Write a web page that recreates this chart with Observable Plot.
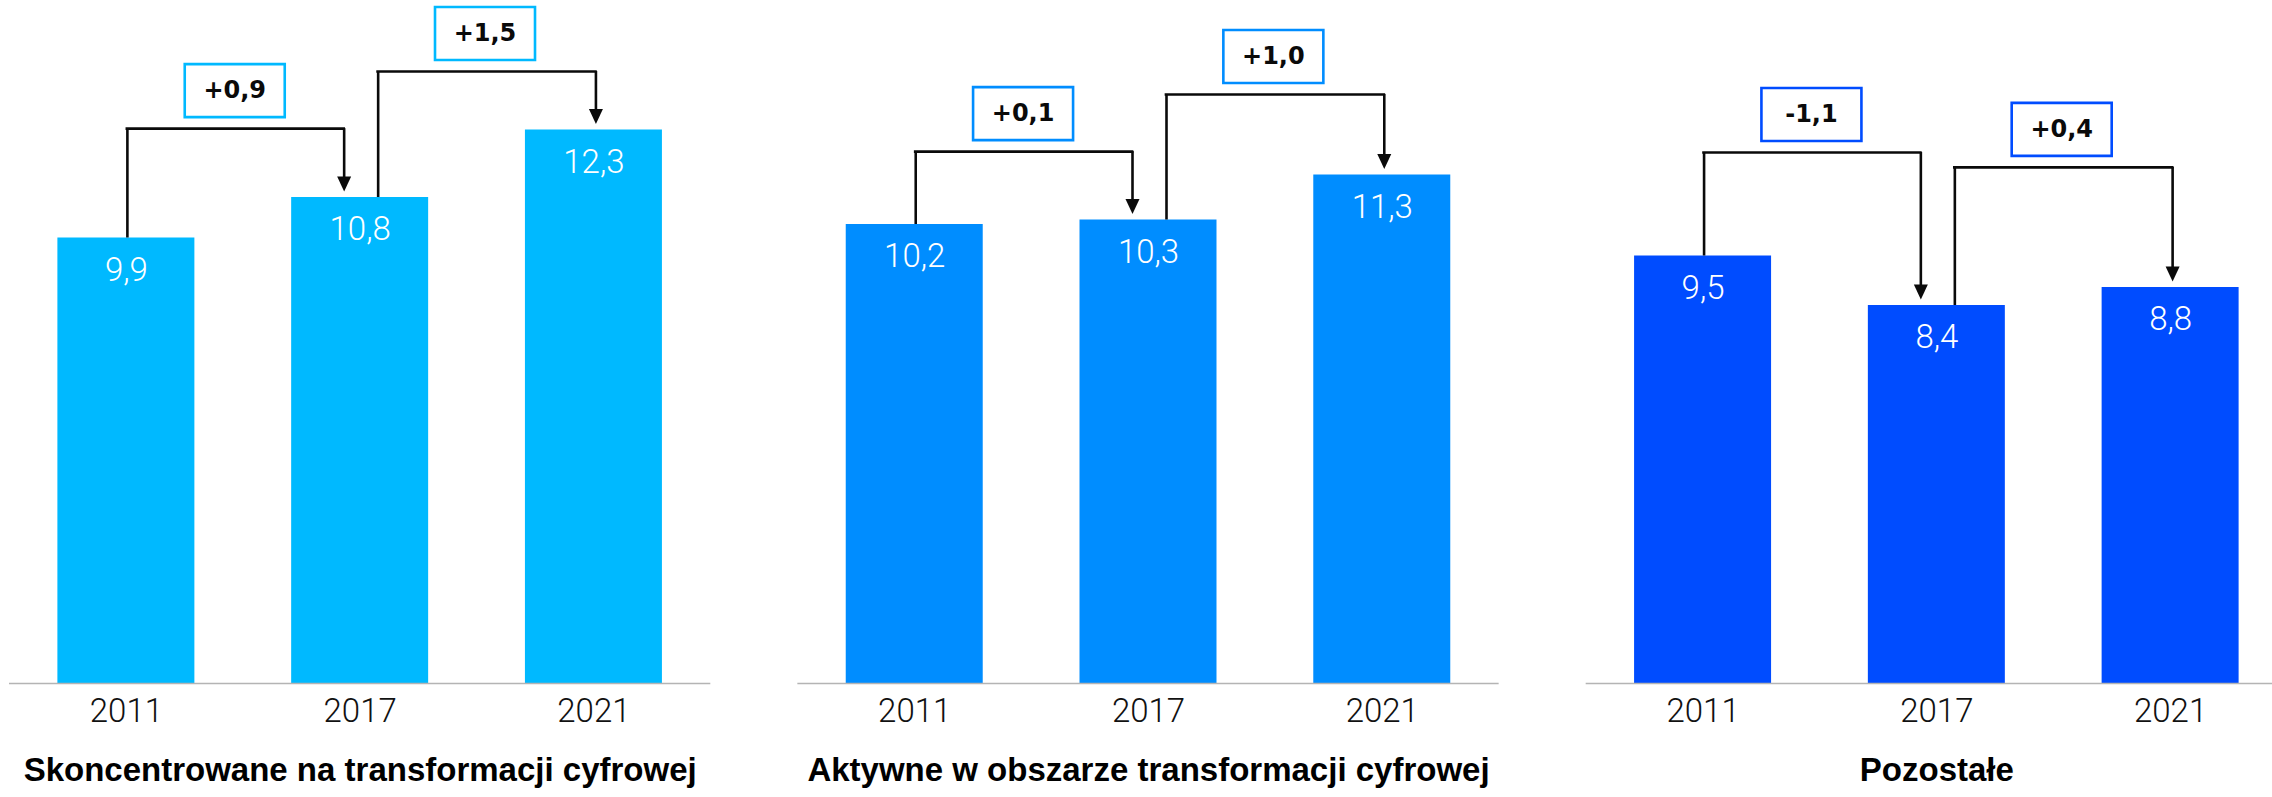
<!DOCTYPE html>
<html>
<head>
<meta charset="utf-8">
<script src="https://cdn.jsdelivr.net/npm/d3@7"></script>
<script src="https://cdn.jsdelivr.net/npm/@observablehq/plot@0.6"></script>
<style>
  html, body { margin: 0; padding: 0; background: #fff; overflow: hidden; }
  #chart svg { display: block; }
</style>
</head>
<body>
<div id="chart"></div>
<script>
// Company groups by digital-transformation involvement
const categories = [
  "Skoncentrowane na transformacji cyfrowej",
  "Aktywne w obszarze transformacji cyfrowej",
  "Pozostałe"
];
const years = ["2011", "2017", "2021"];

// Values per year for each group
const focusedValues = [9.9, 10.8, 12.3];
const activeValues = [10.2, 10.3, 11.3];
const otherValues = [9.5, 8.4, 8.8];

// Group colours (bars and change-label frames)
const palette = ["#00B9FF", "#008DFF", "#004CFF"];

// How far each change bracket rises above the taller of its two bars (value units)
const bracketRise = [1.53, 1.30, 1.52, 1.79, 2.30, 2.67];

const series = [focusedValues, activeValues, otherValues];

const bars = categories.flatMap((category, c) =>
  years.map((year, i) => ({category, year, value: series[c][i]}))
);

const changes = categories.flatMap((category, c) =>
  [0, 1].map((k) => {
    const fromValue = series[c][k];
    const toValue = series[c][k + 1];
    return {
      category,
      step: k,
      from: years[k],
      to: years[k + 1],
      fromValue,
      toValue,
      level: Math.max(fromValue, toValue) + bracketRise[c * 2 + k],
      delta: Math.round((toValue - fromValue) * 10) / 10
    };
  })
);

const fmt = (v) => v.toFixed(1).replace(".", ",");
const fmtDelta = (d) => (d > 0 ? "+" : d < 0 ? "-" : "") + fmt(Math.abs(d));

const ink = "#0a0a0a";
const lineWidth = 2.6;
const bandStep = 233.7;   // px between neighbouring bar centres
const halfBar = 68.45;    // half of a bar's width in px

// Filled downward arrowhead with its tip at the anchor point
const arrowHead = {
  draw(context) {
    context.moveTo(0, 0);
    context.lineTo(-7, -15);
    context.lineTo(7, -15);
    context.closePath();
  }
};

// Rectangular frame behind each change label
const labelBox = {
  draw(context) {
    context.rect(-50, -26.5, 100, 53);
  }
};

// Connector geometry: where brackets leave and enter the bars (px from bar centre)
const connectorGeometry = [
  {start: 1, end: -16, labelShift: -1},
  {start: 18, end: 2, labelShift: -2}
];

const connectorMarks = connectorGeometry.flatMap(({start, end, labelShift}, k) => {
  const data = changes.filter((d) => d.step === k);
  const mid = (start + bandStep + end) / 2 + labelShift;
  return [
    Plot.ruleX(data, {
      fx: "category", x: "from", y1: "level", y2: "fromValue",
      dx: start, stroke: ink, strokeWidth: lineWidth
    }),
    Plot.ruleY(data, {
      fx: "category", y: "level", x1: "from", x2: "to",
      insetLeft: halfBar + start, insetRight: halfBar - end,
      stroke: ink, strokeWidth: lineWidth, strokeLinecap: "square"
    }),
    Plot.ruleX(data, {
      fx: "category", x: "to", y1: "level", y2: "toValue",
      dx: end, insetBottom: 14, stroke: ink, strokeWidth: lineWidth
    }),
    Plot.dot(data, {
      fx: "category", x: "to", y: "toValue",
      dx: end, dy: -6, symbol: arrowHead, fill: ink, stroke: "none"
    }),
    Plot.dot(data, {
      fx: "category", x: "from", y: "level",
      dx: mid, dy: -38, symbol: labelBox,
      fill: "white", stroke: "category", strokeWidth: 2.6
    }),
    Plot.text(data, {
      fx: "category", x: "from", y: "level",
      dx: mid, dy: -38, text: (d) => fmtDelta(d.delta),
      fontFamily: "DejaVu Sans", fontWeight: "bold", fontSize: 24, fill: ink
    })
  ];
});

const chart = Plot.plot({
  width: 2272,
  height: 797,
  marginTop: 0,
  marginBottom: 114,
  marginLeft: 9,
  marginRight: -15,
  style: {background: "#fff"},
  fx: {domain: categories, paddingInner: 0.1104, paddingOuter: 0, round: false, axis: null, label: null},
  x: {domain: years, paddingInner: 0.414, paddingOuter: 0.207, round: false, axis: null, label: null},
  y: {domain: [0, 683 / 45], axis: null, label: null},
  color: {domain: categories, range: palette},
  marks: [
    Plot.barY(bars, {fx: "category", x: "year", y: "value", fill: "category"}),
    Plot.ruleY([0], {stroke: "#b4b4b4", strokeWidth: 1.6}),
    Plot.text(bars, {
      fx: "category", x: "year", y: "value", dy: 32,
      text: (d) => fmt(d.value),
      fill: "white", fontFamily: "Roboto", fontWeight: 300, fontSize: 33
    }),
    ...connectorMarks,
    Plot.text(bars, {
      fx: "category", x: "year", frameAnchor: "bottom", dy: 38,
      text: "year",
      fill: "#111", fontFamily: "Roboto", fontWeight: 300, fontSize: 33
    }),
    Plot.text(categories, {
      fx: (d) => d, frameAnchor: "bottom", dy: 97,
      text: (d) => d,
      fill: "#000", fontFamily: "Liberation Sans", fontWeight: 700, fontSize: 33
    })
  ]
});

document.getElementById("chart").append(chart);
</script>
</body>
</html>
